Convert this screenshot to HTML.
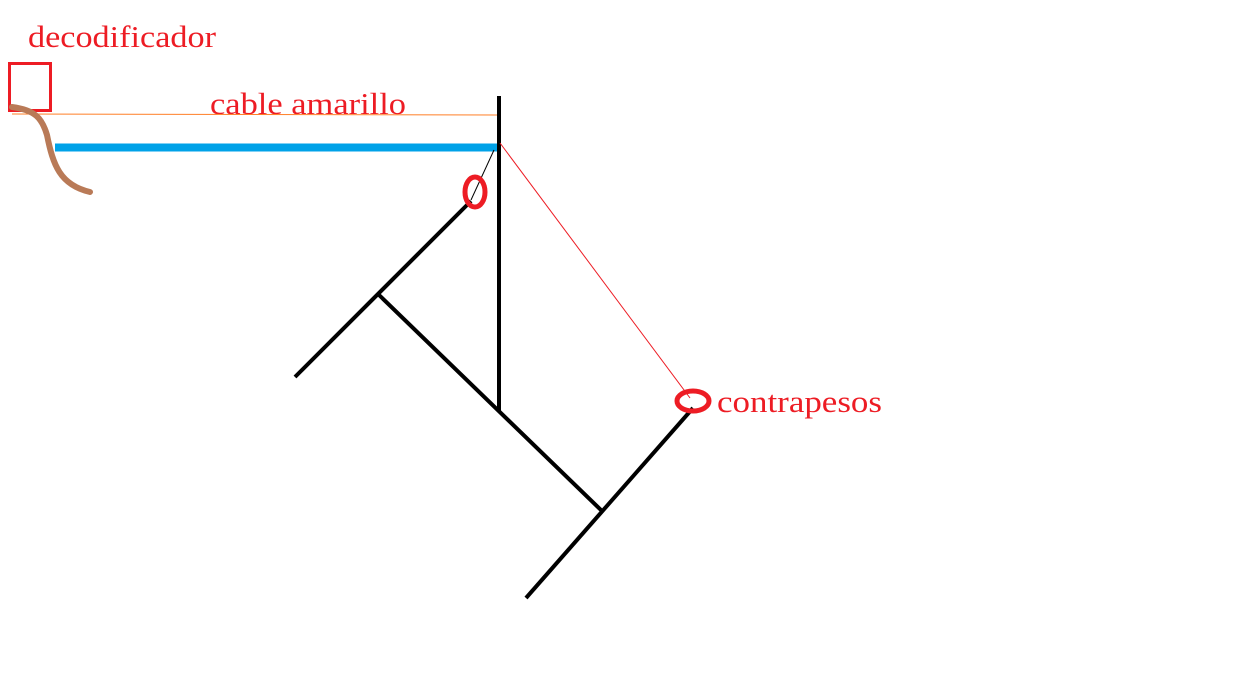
<!DOCTYPE html>
<html><head><style>
html,body{margin:0;padding:0;background:#fff;width:1243px;height:686px;overflow:hidden}
text{font-family:"Liberation Serif","Times New Roman",serif;fill:#ed1c24}
</style></head><body>
<svg width="1243" height="686" viewBox="0 0 1243 686">
<text x="28" y="47" font-size="31" textLength="188" lengthAdjust="spacingAndGlyphs">decodificador</text>
<text x="210" y="114" font-size="31" textLength="196" lengthAdjust="spacingAndGlyphs">cable amarillo</text>
<text x="717" y="412" font-size="31" textLength="165" lengthAdjust="spacingAndGlyphs">contrapesos</text>
<rect x="9.5" y="63.5" width="41" height="47" fill="none" stroke="#ed1c24" stroke-width="3"/>
<line x1="12" y1="114" x2="500" y2="115" stroke="#ff7f27" stroke-width="1"/>
<path d="M12 107 C35 110 42 118 47 135 C53 165 60 185 90 192" fill="none" stroke="#b97a57" stroke-width="6" stroke-linecap="round"/>
<line x1="55" y1="147.5" x2="499" y2="147.5" stroke="#00a2e8" stroke-width="8"/>
<line x1="499" y1="96" x2="499" y2="412" stroke="#000" stroke-width="4"/>
<line x1="500" y1="143" x2="690" y2="398" stroke="#ed1c24" stroke-width="1"/>
<line x1="494" y1="150" x2="471" y2="200" stroke="#000" stroke-width="1"/>
<line x1="295" y1="377" x2="471" y2="201" stroke="#000" stroke-width="4"/>
<line x1="378" y1="294" x2="603" y2="512" stroke="#000" stroke-width="4"/>
<line x1="526" y1="598" x2="693" y2="408" stroke="#000" stroke-width="4"/>
<ellipse cx="475" cy="192" rx="10" ry="15" fill="none" stroke="#ed1c24" stroke-width="5"/>
<ellipse cx="693" cy="401" rx="16" ry="10" fill="none" stroke="#ed1c24" stroke-width="5"/>
</svg>
</body></html>
